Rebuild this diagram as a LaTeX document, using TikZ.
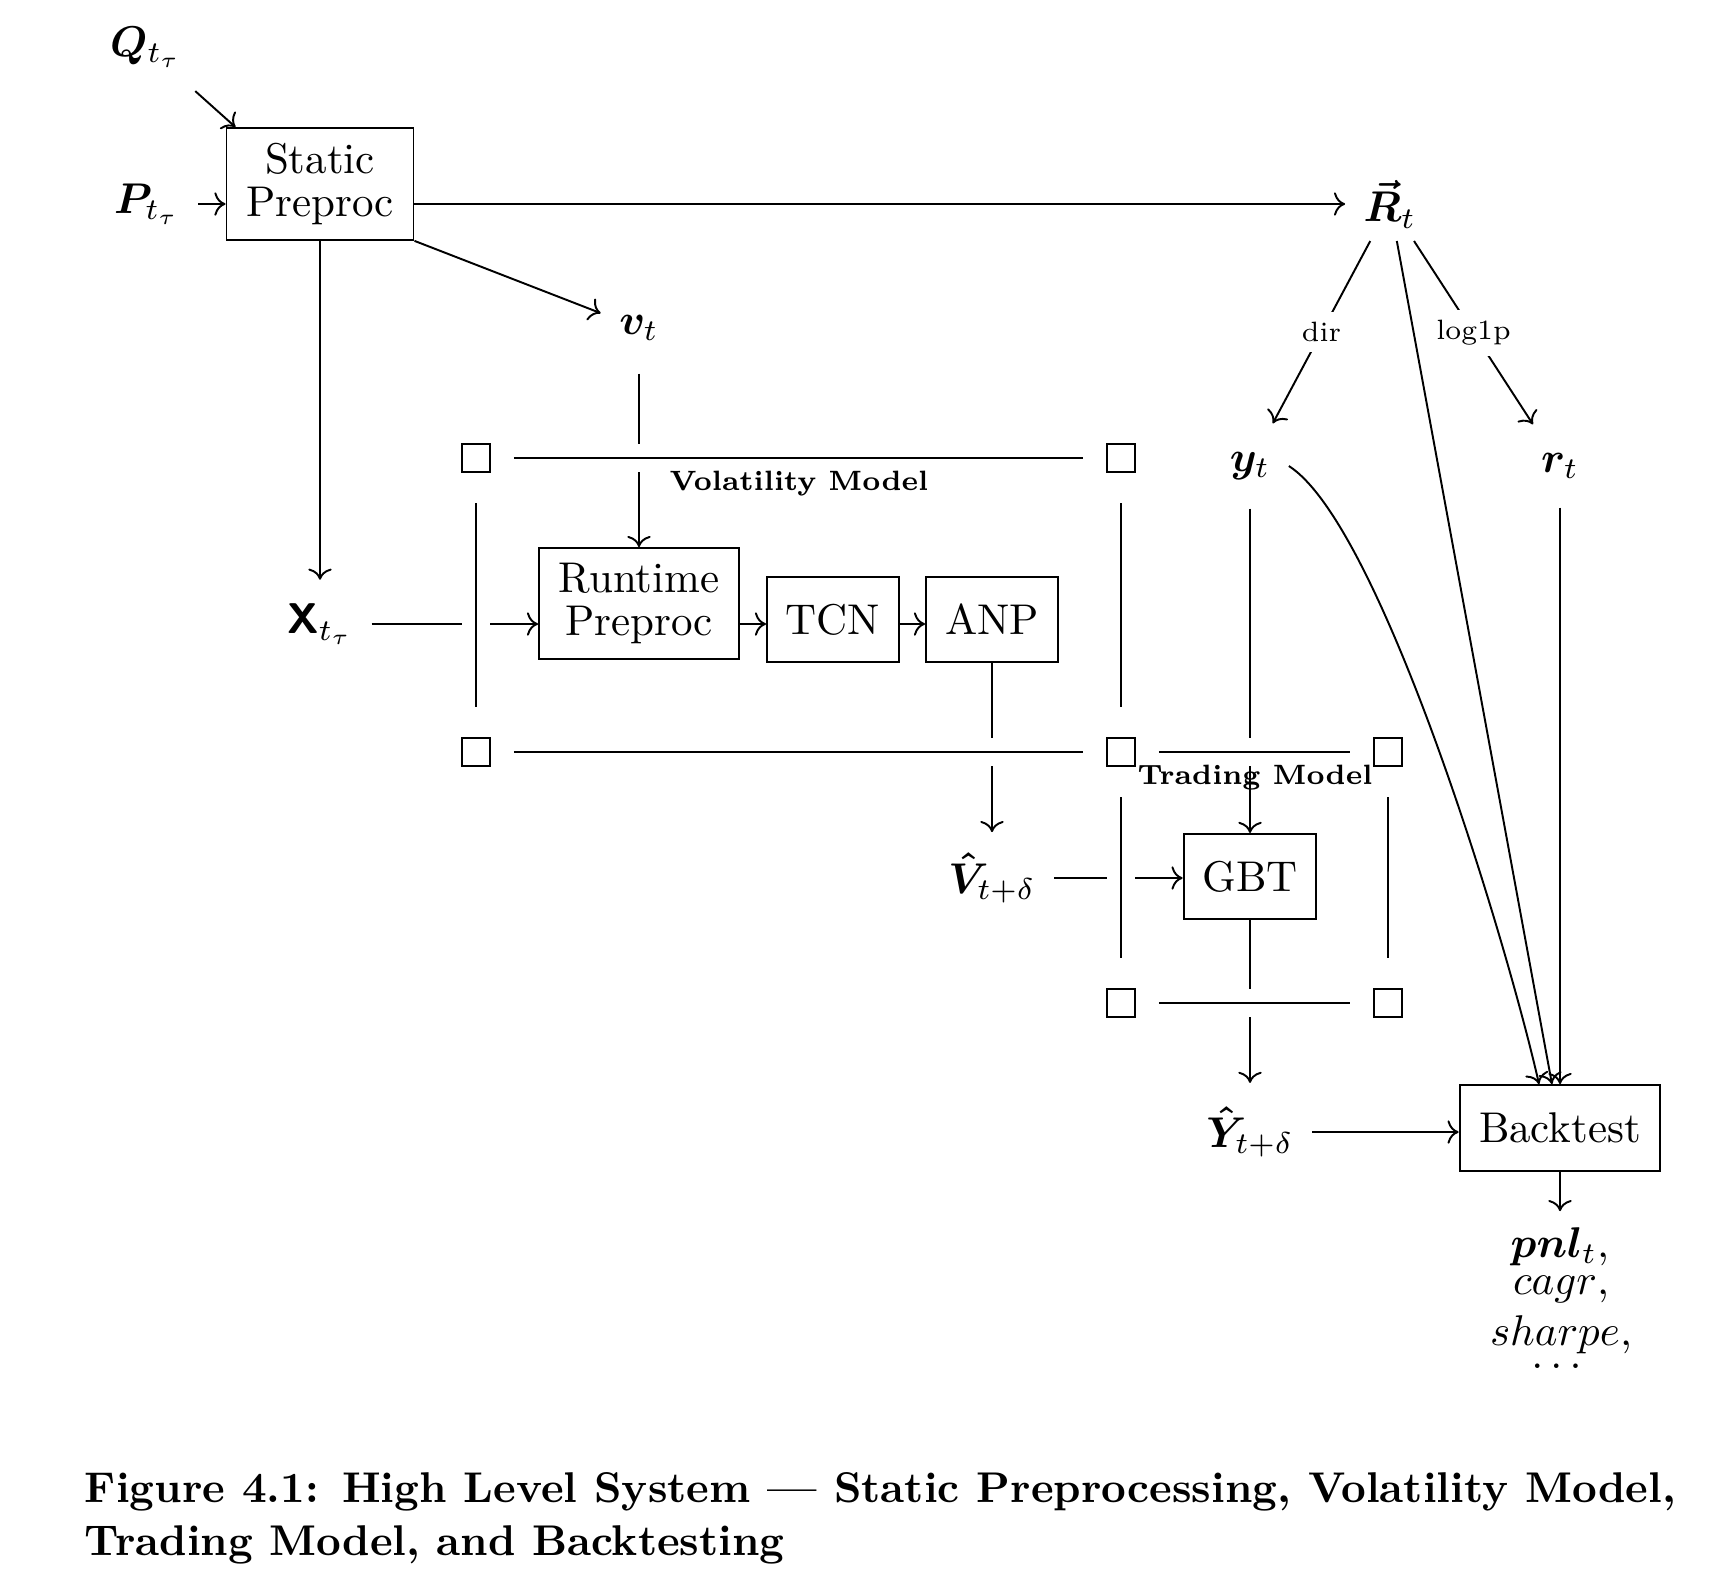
\documentclass[tikz,border=0pt]{standalone}
\usepackage{amsmath,bm}
\usetikzlibrary{calc,arrows.meta}
\begin{document}
\begin{tikzpicture}[x=0.23256pt,y=-0.23256pt,line width=0.45pt,
  lbl/.style={inner xsep=4.1pt,inner ysep=5.35pt},
  box/.style={draw,align=center,inner sep=0pt,font=\fontsize{10}{9.9}\selectfont},
  sq/.style={draw,minimum size=6.5pt,inner sep=0pt},
  frameh/.style={shorten <=5.35pt,shorten >=5.35pt,preaction={draw=white,line width=6.5pt}},
  framev/.style={shorten <=7pt,shorten >=7pt,preaction={draw=white,line width=6.5pt}},
  tag/.style={font=\fontsize{6.5}{8}\selectfont\bfseries},
  desc/.style={fill=white,inner sep=2.4pt,font=\fontsize{6.5}{8}\selectfont},
  arr/.style={-{Computer Modern Rightarrow}}]
\useasboundingbox (0,0) rectangle (1711,1584);
% nodes
\node[lbl] (Q) at (146,47) {$\bm{Q}_{t_\tau}$};
\node[lbl] (P) at (147,204) {$\bm{P}_{t_\tau}$};
\node[box,minimum width=43.5pt,minimum height=26pt] (static) at (320,184) {Static\\Preproc};
\node[lbl,inner ysep=2.8pt] (R) at (1390,204) {$\bm{\vec{R}}_t$};
\node[lbl,inner ysep=7.4pt] (v) at (639,328) {$\bm{v}_t$};
\node[lbl] (X) at (320,624) {$\bm{\mathsf{X}}_{t_\tau}$};
\node[box,minimum width=46.5pt,minimum height=25.8pt] (rt) at (639,603.5) {Runtime\\Preproc};
\node[box,minimum width=30.7pt,minimum height=19.8pt] (tcn) at (833,619.5) {TCN};
\node[box,minimum width=30.7pt,minimum height=19.8pt] (anp) at (992,619.5) {ANP};
\node[lbl,inner ysep=4.6pt] (Vh) at (992,878) {$\bm{\hat{V}}_{t+\delta}$};
\node[box,minimum width=30.9pt,minimum height=19.8pt] (gbt) at (1250,876.5) {GBT};
\node[lbl,inner ysep=6.5pt] (yt) at (1250,466) {$\bm{y}_t$};
\node[lbl,inner ysep=6.5pt] (rr) at (1560,466) {$\bm{r}_t$};
\node[lbl] (Yh) at (1250,1132) {$\bm{\hat{Y}}_{t+\delta}$};
\node[box,minimum width=46.7pt,minimum height=20pt] (bt) at (1560,1128) {Backtest};
\node[lbl,inner ysep=3.5pt,anchor=base] (pnl) at (1560,1257) {$\bm{pnl}_t$,};
\node[inner sep=0pt,anchor=base] (m2) at (1561,1294) {$cagr$,};
\node[inner sep=0pt,anchor=base] (m3) at (1561,1345) {$sharpe$,};
\node[inner sep=0pt,anchor=base] (m4) at (1560,1368) {$\dots$};
% frame corners
\node[sq] (a1) at (476,458) {};
\node[sq] (a2) at (1121,458) {};
\node[sq] (a3) at (476,752) {};
\node[sq] (a4) at (1121,752) {};
\node[sq] (b2) at (1388,752) {};
\node[sq] (b3) at (1121,1003) {};
\node[sq] (b4) at (1388,1003) {};
% connectors
\draw[arr] (Q) -- ($(static.north west)+(10,0)$);
\draw[arr] (P) -- (P -| static.west);
\draw[arr] (static.east |- R) -- (R);
\draw[arr] (static.south east) -- (v);
\draw[arr] (static) -- (X);
\draw[arr] (v) -- (rt);
\draw[arr] (X) -- (X -| rt.west);
\draw[arr] (rt.east |- X) -- (tcn.west |- X);
\draw[arr] (tcn.east |- X) -- (anp.west |- X);
\draw[arr] (anp) -- (Vh);
\draw[arr] (Vh) -- (Vh -| gbt.west);
\draw[arr] (R) -- node[desc] {dir} (yt);
\draw[arr] (R) -- node[desc] {log1p} (rr);
\draw[arr] (yt) -- (gbt);
\draw[arr] (gbt) -- (Yh);
\draw[arr] (Yh) -- (Yh -| bt.west);
\draw[arr] (rr) -- (bt);
\draw[arr] (R) -- (bt);
\draw[arr] (yt.east) .. controls +(92,59) and +(-33,-145) .. ($(bt.north)+(-21,0)$);
\draw[arr] (bt) -- (bt |- pnl.north);
% frames (drawn over the connectors they cross)
\draw[frameh] (a1) -- (a2);
\draw[frameh] (a3) -- (a4);
\draw[framev] (a1) -- (a3);
\draw[framev] (a2) -- (a4);
\draw[frameh] (a4) -- (b2);
\draw[frameh] (b3) -- (b4);
\draw[framev] (a4) -- (b3);
\draw[framev] (b2) -- (b4);
\node[tag] (vm) at (799,484) {Volatility Model};
\node[tag] (tm) at (1255,778) {Trading Model};
% caption
\node[anchor=north west,inner sep=0pt,text width=370pt,align=justify,
  font=\fontsize{10}{12.3}\selectfont\bfseries] (cap) at (84,1472)
  {Figure 4.1: High Level System --- Static Preprocessing, Volatility Model, Trading Model, and Backtesting};
\end{tikzpicture}
\end{document}
